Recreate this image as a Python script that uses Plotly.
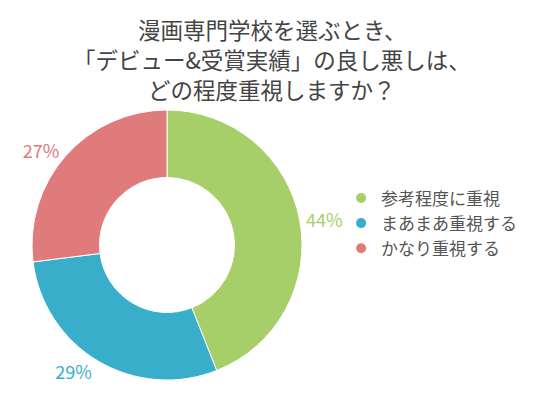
import plotly.graph_objects as go

labels = ["参考程度に重視", "まあまあ重視する", "かなり重視する"]
values = [44, 29, 27]
colors = ["#a6cf6a", "#38aecb", "#e07b7b"]
title_lines = ["漫画専門学校を選ぶとき、", "「デビュー&受賞実績」の良し悪しは、", "どの程度重視しますか？"]
title_line_y = [21, 51, 81]  # pixel centres of the title lines

W, H = 539, 399
fig = go.Figure()
fig.add_trace(go.Pie(
    labels=labels, values=values, hole=0.5, sort=False, direction="clockwise", rotation=0,
    marker=dict(colors=colors, line=dict(color="white", width=1)),
    textinfo="percent", texttemplate="%{percent:.0%}", textposition="outside",
    outsidetextfont=dict(color=colors, size=18, family="Noto Sans CJK JP"),
    showlegend=False, hoverinfo="label+percent",
    domain=dict(x=[24 / W, 294 / W], y=[1 - 372 / H, 1 - 102 / H]),
))
for l, c in zip(labels, colors):
    fig.add_trace(go.Scatter(x=[None], y=[None], mode="markers", name=l,
                             marker=dict(symbol="circle", size=10, color=c)))

annotations = [dict(text=t, x=0.489, y=1 - yc / H, xref="paper", yref="paper",
                    xanchor="center", yanchor="middle", showarrow=False,
                    font=dict(size=22.5, color="#444444", family="Noto Sans CJK JP"))
               for t, yc in zip(title_lines, title_line_y)]

fig.update_layout(
    width=W, height=H,
    margin=dict(l=0, r=0, t=0, b=0),
    paper_bgcolor="white", plot_bgcolor="white",
    font=dict(family="Noto Sans CJK JP", color="#555555"),
    xaxis=dict(visible=False), yaxis=dict(visible=False),
    legend=dict(x=0.618, y=0.46, xanchor="left", yanchor="middle",
                font=dict(size=17, color="#555555"), itemwidth=30, tracegroupgap=0,
                bgcolor="rgba(0,0,0,0)"),
    annotations=annotations,
)
fig.write_html("out.html")
